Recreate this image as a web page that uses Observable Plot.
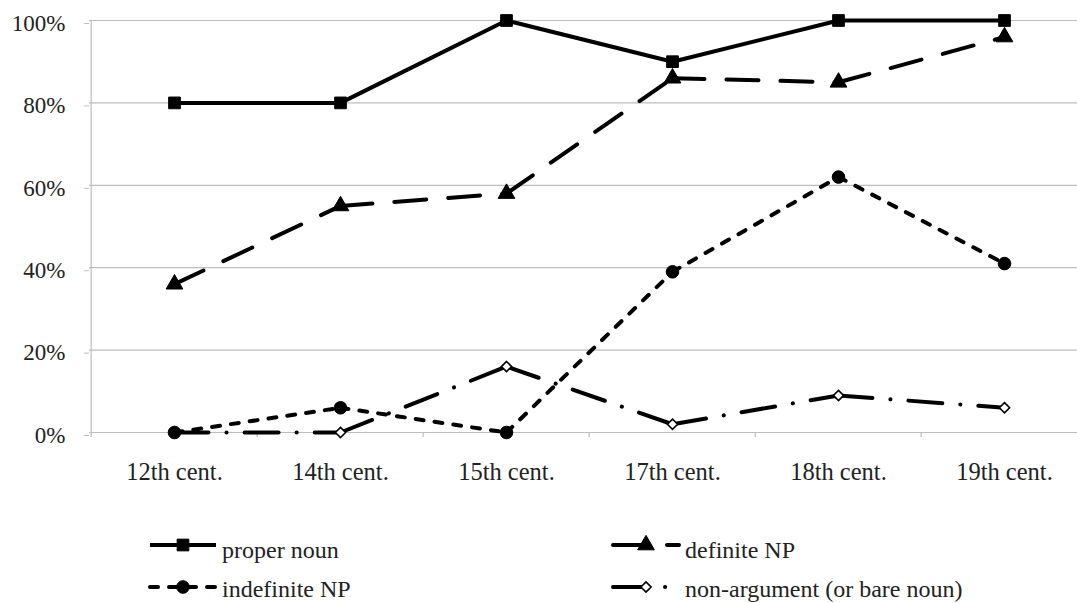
<!DOCTYPE html>
<html><head><meta charset="utf-8">
<script src="https://cdn.jsdelivr.net/npm/d3@7"></script>
<script src="https://cdn.jsdelivr.net/npm/@observablehq/plot@0.6"></script>
<style>
html,body{margin:0;padding:0;background:#fff;overflow:hidden;width:1077px;height:603px}
#chart svg,#legend svg{display:block;overflow:visible;max-width:none !important}
</style></head><body><div id="chart"></div><div id="legend"></div>
<script>
// ---- data ----
const centuries = ["12th cent.","14th cent.","15th cent.","17th cent.","18th cent.","19th cent."];
const properNoun   = [80, 80, 100, 90, 100, 100];
const definiteNP   = [36, 55, 58, 86, 85, 96];
const indefiniteNP = [0, 6, 0, 39, 62, 41];
const nonArgument  = [0, 0, 16, 2, 9, 6];
const yTicks = [0, 20, 40, 60, 80, 100];
const seriesNames = ["proper noun", "definite NP", "indefinite NP", "non-argument (or bare noun)"];
const seriesValues = [properNoun, definiteNP, indefiniteNP, nonArgument];

// ---- styles ----
const FONT = "'Liberation Serif', serif";
const styles = {
  "proper noun": {dash: null, symbol: "square", r: 6.6, fill: "black", sw: 1},
  "definite NP": {dash: "32 22", symbol: "triangle", r: 6.2, fill: "black", sw: 1},
  "indefinite NP": {dash: "8 11", symbol: "circle", r: 6.3, fill: "black", sw: 1},
  "non-argument (or bare noun)": {dash: "34 18 0.1 18", symbol: "diamond2", r: 4.6, fill: "white", sw: 1.6}
};
const drawOrder = [0, 1, 3, 2];

// build per-segment rows so dash patterns restart at each point
function segments(vals) {
  const out = [];
  for (let i = 0; i < vals.length - 1; i++) {
    out.push({seg: i, x: centuries[i], y: vals[i]});
    out.push({seg: i, x: centuries[i + 1], y: vals[i + 1]});
  }
  return out;
}
function points(vals) { return vals.map((v, i) => ({x: centuries[i], y: v})); }

const W = 1090, H = 490, ML = 89, MR = 1, MT = 20, MB = 58;
const step = (W - ML - MR) / centuries.length;

const marks = [
  Plot.ruleY(yTicks, {stroke: "#bdbdbd", strokeWidth: 1.2}),
  Plot.ruleX([centuries[0]], {dx: -step / 2, y1: -1.2, y2: 100, stroke: "#bdbdbd", strokeWidth: 1.2}),
  Plot.ruleX(centuries.slice(1), {dx: -step / 2, y1: 0, y2: -1.2, stroke: "#bdbdbd", strokeWidth: 1.2}),
  Plot.axisY({ticks: yTicks, tickFormat: d => d + "%", tickSize: 5, tickPadding: 19, stroke: "#bdbdbd", fill: "#222", fontSize: 23, fontFamily: "Liberation Serif", dy: 3, label: null}),
  Plot.axisX({tickSize: 0, tickPadding: 30, fill: "#222", fontSize: 24.5, fontFamily: "Liberation Serif", label: null})
];
for (const k of drawOrder) {
  const st = styles[seriesNames[k]];
  marks.push(Plot.line(segments(seriesValues[k]), {
    x: "x", y: "y", z: "seg", stroke: "black", strokeWidth: 4,
    strokeDasharray: st.dash || undefined, strokeLinecap: st.dash ? "round" : "butt", strokeLinejoin: "round"
  }));
}
for (const k of drawOrder) {
  const st = styles[seriesNames[k]];
  marks.push(Plot.dot(points(seriesValues[k]), {
    x: "x", y: "y", symbol: () => st.symbol, r: st.r, fill: st.fill, stroke: "black", strokeWidth: st.sw
  }));
}

const chart = Plot.plot({
  width: W, height: H,
  marginLeft: ML, marginRight: MR, marginTop: MT, marginBottom: MB,
  style: {fontFamily: FONT, background: "white", overflow: "visible", maxWidth: "none"},
  x: {type: "point", domain: centuries, padding: 0.5, axis: null},
  y: {domain: [0, 100], axis: null},
  symbol: {type: "identity"},
  marks
});
document.getElementById("chart").appendChild(chart);

// ---- legend (below the chart) ----
const legendItems = [
  {name: seriesNames[0], x: 150, y: 55, ty: 13},
  {name: seriesNames[2], x: 150, y: 97, ty: 10},
  {name: seriesNames[1], x: 613, y: 55, ty: 13},
  {name: seriesNames[3], x: 613, y: 97, ty: 10}
];
const symMap = {square: d3.symbolSquare, triangle: d3.symbolTriangle, circle: d3.symbolCircle, diamond2: d3.symbolDiamond2};
const lsvg = d3.select("#legend").append("svg").attr("width", 1077).attr("height", 603 - H)
  .attr("font-family", "Liberation Serif");
for (const it of legendItems) {
  const st = styles[it.name];
  const len = 66;
  lsvg.append("line").attr("x1", it.x).attr("x2", it.x + len).attr("y1", it.y).attr("y2", it.y)
    .attr("stroke", "black").attr("stroke-width", 4)
    .attr("stroke-dasharray", st.dash || null).attr("stroke-linecap", st.dash ? "round" : "butt");
  lsvg.append("path").attr("transform", `translate(${it.x + len / 2},${it.y})`)
    .attr("d", d3.symbol(symMap[st.symbol], Math.PI * st.r * st.r)())
    .attr("fill", st.fill).attr("stroke", "black").attr("stroke-width", st.sw);
  lsvg.append("text").attr("x", it.x + len + 6).attr("y", it.y + it.ty)
    .attr("font-size", 24).attr("font-family", "Liberation Serif").attr("fill", "#222").text(it.name);
}
</script></body></html>
